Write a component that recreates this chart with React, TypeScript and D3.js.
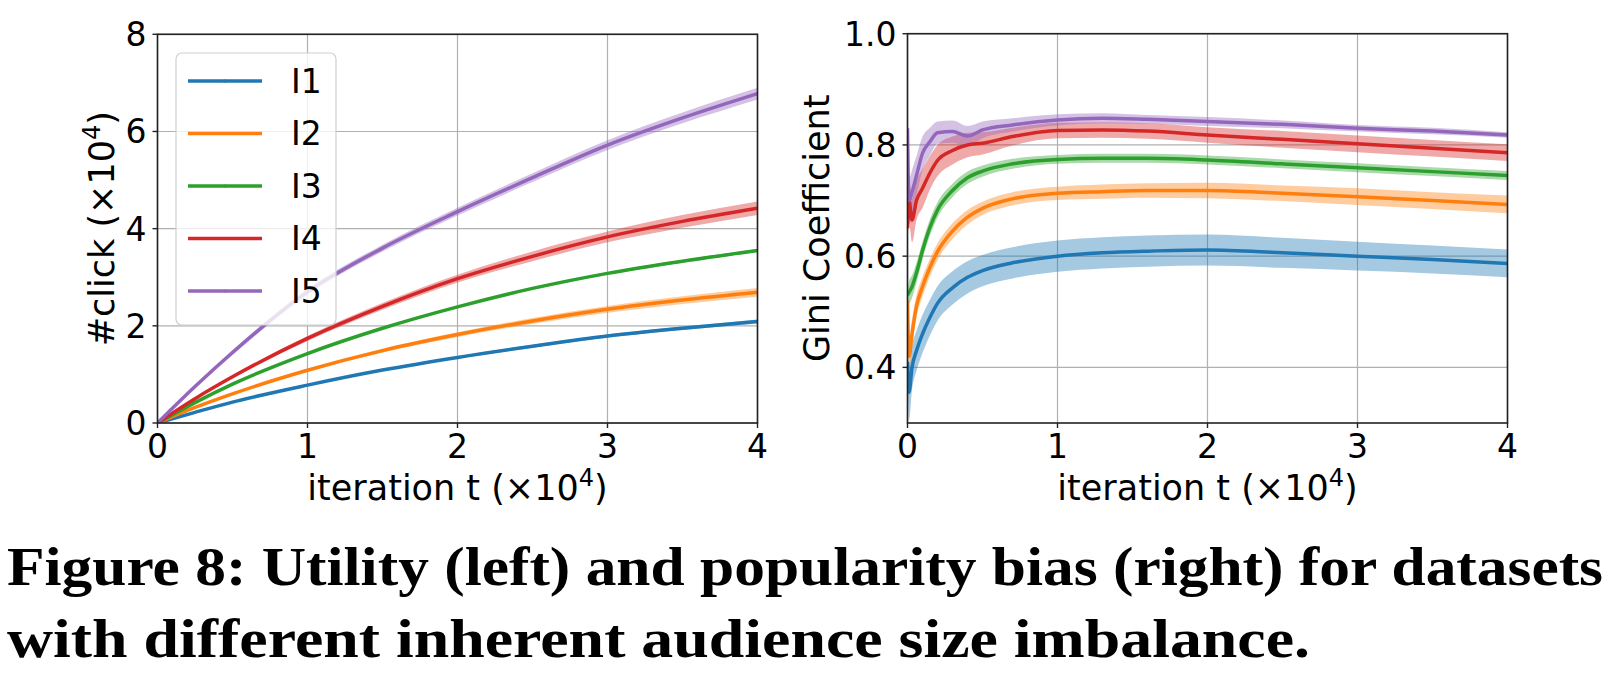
import React from "react";
import * as d3 from "d3";

const seriesNames = ["I1", "I2", "I3", "I4", "I5"];
const colors = ["#1f77b4", "#ff7f0e", "#2ca02c", "#d62728", "#9467bd"];

// Left panel: #click (x10^4) vs iteration (x10^4)
const clickX = [0, 0.25, 0.5, 1, 1.5, 2, 2.5, 3, 3.5, 4];
const clickI1 = [0, 0.22, 0.43, 0.78, 1.09, 1.35, 1.58, 1.79, 1.95, 2.09];
const clickI2 = [0, 0.32, 0.6, 1.085, 1.49, 1.82, 2.1, 2.34, 2.53, 2.69];
const clickI3 = [0, 0.42, 0.8, 1.43, 1.95, 2.39, 2.77, 3.08, 3.33, 3.55];
const clickI4 = [0, 0.5, 0.95, 1.74, 2.4, 2.97, 3.43, 3.83, 4.15, 4.42];
const clickI5 = [0, 0.75, 1.45, 2.7, 3.6, 4.35, 5.05, 5.72, 6.28, 6.78];
const clickBandI1 = [0, 0.01, 0.01, 0.015, 0.02, 0.025, 0.03, 0.03, 0.035, 0.04];
const clickBandI2 = [0, 0.01, 0.02, 0.03, 0.04, 0.05, 0.06, 0.07, 0.08, 0.09];
const clickBandI3 = [0, 0.01, 0.01, 0.015, 0.02, 0.02, 0.025, 0.025, 0.03, 0.03];
const clickBandI4 = [0, 0.02, 0.03, 0.05, 0.07, 0.08, 0.1, 0.11, 0.13, 0.14];
const clickBandI5 = [0, 0.03, 0.05, 0.06, 0.07, 0.08, 0.09, 0.1, 0.11, 0.12];

// Right panel: Gini coefficient vs iteration (x10^4)
const giniX = [0, 0.01, 0.03, 0.06, 0.1, 0.15, 0.2, 0.3, 0.4, 0.5, 0.7, 1.0, 1.3, 1.6, 2.0, 2.5, 3.0, 3.5, 4.0];
const giniI1 = [0.41, 0.355, 0.4, 0.43, 0.46, 0.49, 0.515, 0.543, 0.562, 0.574, 0.588, 0.6, 0.606, 0.609, 0.611, 0.606, 0.6, 0.594, 0.587];
const giniI2 = [0.52, 0.42, 0.46, 0.51, 0.545, 0.58, 0.608, 0.645, 0.67, 0.686, 0.703, 0.713, 0.716, 0.718, 0.718, 0.713, 0.707, 0.7, 0.693];
const giniI3 = [0.53, 0.535, 0.545, 0.57, 0.61, 0.652, 0.683, 0.718, 0.741, 0.753, 0.766, 0.774, 0.776, 0.776, 0.773, 0.766, 0.759, 0.752, 0.745];
const giniI4 = [0.65, 0.7, 0.665, 0.7, 0.722, 0.75, 0.772, 0.79, 0.8, 0.803, 0.815, 0.826, 0.827, 0.825, 0.818, 0.81, 0.802, 0.794, 0.786];
const giniI5 = [0.83, 0.7, 0.715, 0.745, 0.785, 0.806, 0.822, 0.824, 0.816, 0.827, 0.836, 0.845, 0.848, 0.846, 0.842, 0.837, 0.83, 0.825, 0.818];
const giniBandI1 = [0.03, 0.05, 0.04, 0.036, 0.034, 0.032, 0.031, 0.03, 0.029, 0.028, 0.028, 0.028, 0.028, 0.028, 0.028, 0.027, 0.026, 0.025, 0.025];
const giniBandI2 = [0.02, 0.03, 0.025, 0.02, 0.018, 0.016, 0.015, 0.014, 0.013, 0.012, 0.012, 0.012, 0.013, 0.013, 0.014, 0.014, 0.015, 0.015, 0.016];
const giniBandI3 = [0.01, 0.02, 0.02, 0.018, 0.016, 0.015, 0.014, 0.012, 0.011, 0.01, 0.009, 0.008, 0.008, 0.008, 0.008, 0.008, 0.008, 0.008, 0.008];
const giniBandI4 = [0.03, 0.04, 0.04, 0.035, 0.035, 0.03, 0.028, 0.025, 0.022, 0.02, 0.016, 0.014, 0.014, 0.014, 0.014, 0.015, 0.015, 0.015, 0.015];
const giniBandI5 = [0.005, 0.04, 0.04, 0.035, 0.03, 0.025, 0.02, 0.02, 0.018, 0.015, 0.012, 0.01, 0.009, 0.008, 0.008, 0.007, 0.006, 0.006, 0.005];

const xTicks = [0, 1, 2, 3, 4];
const clickTicks = [0, 2, 4, 6, 8];
const giniTicks = [0.4, 0.6, 0.8, 1.0];

const captionLine1 = "Figure 8: Utility (left) and popularity bias (right) for datasets";
const captionLine2 = "with different inherent audience size imbalance.";

const clickSeries = [clickI1, clickI2, clickI3, clickI4, clickI5];
const clickBands = [clickBandI1, clickBandI2, clickBandI3, clickBandI4, clickBandI5];
const giniSeries = [giniI1, giniI2, giniI3, giniI4, giniI5];
const giniBands = [giniBandI1, giniBandI2, giniBandI3, giniBandI4, giniBandI5];

const FONT = "DejaVu Sans, sans-serif";

type PanelProps = {
  id: string;
  x0: number;
  x1: number;
  y0: number;
  y1: number;
  yDomain: [number, number];
  yTicks: number[];
  yFmt: (v: number) => string;
  xs: number[];
  series: number[][];
  bands: number[][];
  ylabel: string;
  ylabelSup: boolean;
  ylabelX: number;
  curve: any;
};

function Panel(p: PanelProps) {
  const xScale = d3.scaleLinear().domain([0, 4]).range([p.x0, p.x1]);
  const yScale = d3.scaleLinear().domain(p.yDomain).range([p.y1, p.y0]);
  const line = d3
    .line<number>()
    .x((_, i) => xScale(p.xs[i]))
    .y((d) => yScale(d))
    .curve(p.curve);
  const area = (vals: number[], band: number[]) =>
    d3
      .area<number>()
      .x((_, i) => xScale(p.xs[i]))
      .y0((d, i) => yScale(d - band[i]))
      .y1((d, i) => yScale(d + band[i]))
      .curve(p.curve)(vals);
  const cx = (p.x0 + p.x1) / 2;
  const cy = (p.y0 + p.y1) / 2;
  return (
    <g>
      <defs>
        <clipPath id={p.id}>
          <rect x={p.x0} y={p.y0} width={p.x1 - p.x0} height={p.y1 - p.y0} />
        </clipPath>
      </defs>
      {xTicks.map((t) => (
        <line key={"gx" + t} x1={xScale(t)} x2={xScale(t)} y1={p.y0} y2={p.y1} stroke="#b0b0b0" strokeWidth={1.2} />
      ))}
      {p.yTicks.map((t) => (
        <line key={"gy" + t} x1={p.x0} x2={p.x1} y1={yScale(t)} y2={yScale(t)} stroke="#b0b0b0" strokeWidth={1.2} />
      ))}
      <g clipPath={`url(#${p.id})`}>
        {p.series.map((s, i) => (
          <path key={"a" + i} d={area(s, p.bands[i]) || ""} fill={colors[i]} fillOpacity={0.4} stroke="none" />
        ))}
        {p.series.map((s, i) => (
          <path key={"l" + i} d={line(s) || ""} fill="none" stroke={colors[i]} strokeWidth={3.5} strokeLinejoin="round" />
        ))}
      </g>
      <rect x={p.x0} y={p.y0} width={p.x1 - p.x0} height={p.y1 - p.y0} fill="none" stroke="#222" strokeWidth={1.6} />
      {xTicks.map((t) => (
        <g key={"xt" + t}>
          <line x1={xScale(t)} x2={xScale(t)} y1={p.y1} y2={p.y1 + 5} stroke="#222" strokeWidth={1.4} />
          <text x={xScale(t)} y={p.y1 + 35} textAnchor="middle" fontFamily={FONT} fontSize={33} fill="#000">
            {String(t)}
          </text>
        </g>
      ))}
      {p.yTicks.map((t) => (
        <g key={"yt" + t}>
          <line x1={p.x0 - 5} x2={p.x0} y1={yScale(t)} y2={yScale(t)} stroke="#222" strokeWidth={1.4} />
          <text x={p.x0 - 11} y={yScale(t)} dy="0.36em" textAnchor="end" fontFamily={FONT} fontSize={33} fill="#000">
            {p.yFmt(t)}
          </text>
        </g>
      ))}
      <text x={cx} y={p.y1 + 77} textAnchor="middle" fontFamily={FONT} fontSize={35} fill="#000">
        iteration t (×10<tspan fontSize={24} dy={-14}>4</tspan><tspan dy={14}>)</tspan>
      </text>
      <text
        transform={`translate(${p.ylabelX},${cy}) rotate(-90)`}
        textAnchor="middle"
        fontFamily={FONT}
        fontSize={35}
        fill="#000"
      >
        {p.ylabelSup ? (
          <>
            {p.ylabel} (×10<tspan fontSize={24} dy={-14}>4</tspan><tspan dy={14}>)</tspan>
          </>
        ) : (
          p.ylabel
        )}
      </text>
    </g>
  );
}

export default function App() {
  const W = 1611;
  const H = 695;
  const legendRows = [81, 133.5, 186, 238.5, 291];
  return (
    <svg width={W} height={H} style={{ position: "absolute", left: 0, top: 0, background: "#fff" }}>
      <rect x={0} y={0} width={W} height={H} fill="#fff" />
      <Panel
        id="clipL"
        x0={157.5}
        x1={757.5}
        y0={34.3}
        y1={423}
        yDomain={[0, 8]}
        yTicks={clickTicks}
        yFmt={(v) => String(v)}
        xs={clickX}
        series={clickSeries}
        bands={clickBands}
        ylabel="#click"
        ylabelSup={true}
        ylabelX={114}
        curve={d3.curveMonotoneX}
      />
      {/* legend */}
      <g>
        <rect x={176} y={53} width={160} height={272} rx={6} ry={6} fill="#fff" fillOpacity={0.8} stroke="#d0d0d0" strokeWidth={1.2} />
        {seriesNames.map((n, i) => (
          <g key={n}>
            <line x1={188} x2={262} y1={legendRows[i]} y2={legendRows[i]} stroke={colors[i]} strokeWidth={3.5} />
            <circle cx={225} cy={legendRows[i]} r={1.6} fill={colors[i]} />
            <text x={291} y={legendRows[i]} dy="0.36em" fontFamily={FONT} fontSize={33} fill="#000">
              {n}
            </text>
          </g>
        ))}
      </g>
      <Panel
        id="clipR"
        x0={907.5}
        x1={1507.5}
        y0={33.7}
        y1={423}
        yDomain={[0.3, 1.0]}
        yTicks={giniTicks}
        yFmt={(v) => v.toFixed(1)}
        xs={giniX}
        series={giniSeries}
        bands={giniBands}
        ylabel="Gini Coefficient"
        ylabelSup={false}
        ylabelX={829}
        curve={d3.curveMonotoneX}
      />
      <text x={7} y={585} fontFamily="Liberation Serif, serif" fontWeight="bold" fontSize={54} textLength={1596} lengthAdjust="spacingAndGlyphs" fill="#000">
        {captionLine1}
      </text>
      <text x={7} y={657} fontFamily="Liberation Serif, serif" fontWeight="bold" fontSize={54} textLength={1303} lengthAdjust="spacingAndGlyphs" fill="#000">
        {captionLine2}
      </text>
    </svg>
  );
}
